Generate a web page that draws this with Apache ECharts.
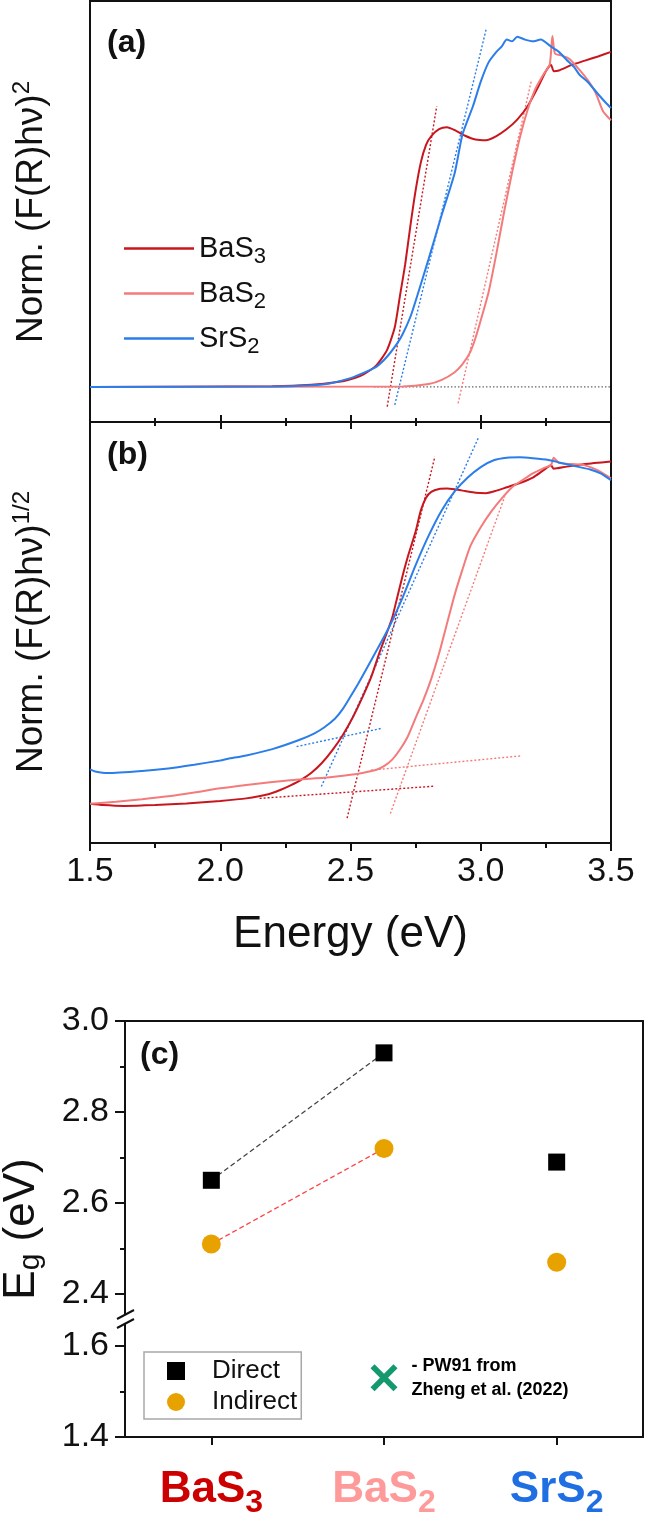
<!DOCTYPE html>
<html>
<head>
<meta charset="utf-8">
<script src="https://cdn.jsdelivr.net/npm/echarts@6.0.0/dist/echarts.min.js"></script>
<style>
  html, body { margin: 0; padding: 0; background: #fff; }
  #chart { width: 646px; height: 1523px; }
</style>
</head>
<body>
<div id="chart"></div>
<script>
// compounds, shared by the legend of (a) and the categories of (c)
const compounds = ['BaS3', 'BaS2', 'SrS2'];
const compoundBase = ['BaS', 'BaS', 'SrS'];
const compoundSub = ['3', '2', '2'];
const lineColors = ['#c8161e', '#f47b7b', '#2b7de9'];
const labelColors = ['#cc0000', '#ff9a9a', '#1f6fe3'];

// (a) direct Tauc plot, [energy eV, normalised (F(R)hv)^2]
const directBaS3 = [[1.5,0],[2.2,0.002],[2.35,0.006],[2.45,0.014],[2.5,0.022],[2.55,0.036],[2.6,0.062],[2.64,0.105],[2.67,0.17],[2.69,0.26],[2.71,0.35],[2.73,0.46],[2.75,0.56],[2.77,0.64],[2.79,0.69],[2.81,0.715],[2.84,0.735],[2.87,0.74],[2.9,0.732],[2.94,0.716],[2.98,0.705],[3.02,0.703],[3.06,0.715],[3.1,0.735],[3.14,0.762],[3.18,0.8],[3.22,0.855],[3.25,0.9],[3.27,0.918],[3.28,0.9],[3.3,0.902],[3.35,0.918],[3.4,0.93],[3.45,0.942],[3.5,0.955]];
const directBaS2 = [[1.5,0],[2.7,0.001],[2.8,0.008],[2.85,0.02],[2.9,0.042],[2.93,0.065],[2.96,0.1],[2.98,0.14],[3.0,0.19],[3.03,0.27],[3.06,0.38],[3.09,0.5],[3.12,0.61],[3.15,0.71],[3.18,0.79],[3.21,0.85],[3.24,0.89],[3.265,0.92],[3.275,1.0],[3.285,0.95],[3.31,0.945],[3.34,0.935],[3.38,0.903],[3.41,0.875],[3.44,0.84],[3.47,0.785],[3.5,0.76]];
const directSrS2 = [[1.5,0],[2.2,0.001],[2.35,0.005],[2.42,0.01],[2.5,0.025],[2.55,0.04],[2.6,0.058],[2.64,0.086],[2.68,0.125],[2.7,0.15],[2.73,0.2],[2.75,0.245],[2.8,0.365],[2.85,0.49],[2.9,0.61],[2.93,0.72],[2.97,0.8],[3.0,0.87],[3.03,0.925],[3.06,0.955],[3.08,0.97],[3.1,0.99],[3.12,0.985],[3.14,0.998],[3.17,0.99],[3.2,0.985],[3.23,0.99],[3.27,0.97],[3.3,0.955],[3.33,0.932],[3.36,0.91],[3.38,0.889],[3.41,0.87],[3.45,0.835],[3.48,0.81],[3.5,0.795]];
const directFits = [
  [[2.641,-0.056],[2.831,0.8]],
  [[2.913,-0.047],[3.195,0.875]],
  [[2.67,-0.051],[3.021,1.02]]
];
const directBase = [[2.59,0],[3.5,0]];

// (b) indirect Tauc plot, [energy eV, normalised (F(R)hv)^1/2]
const indirectBaS3 = [[1.5,0.093],[1.55,0.09],[1.63,0.088],[1.75,0.09],[1.87,0.094],[2.0,0.1],[2.1,0.106],[2.18,0.115],[2.23,0.126],[2.27,0.137],[2.31,0.15],[2.35,0.167],[2.39,0.19],[2.43,0.22],[2.47,0.256],[2.51,0.3],[2.55,0.352],[2.58,0.395],[2.61,0.45],[2.64,0.5],[2.66,0.535],[2.68,0.585],[2.7,0.635],[2.72,0.68],[2.75,0.74],[2.77,0.79],[2.79,0.82],[2.81,0.834],[2.84,0.841],[2.87,0.842],[2.9,0.84],[2.94,0.836],[2.98,0.832],[3.02,0.831],[3.06,0.837],[3.1,0.845],[3.15,0.855],[3.2,0.868],[3.24,0.885],[3.27,0.897],[3.28,0.889],[3.33,0.894],[3.4,0.9],[3.5,0.906]];
const indirectBaS2 = [[1.5,0.093],[1.6,0.098],[1.7,0.104],[1.8,0.111],[1.9,0.12],[2.0,0.13],[2.1,0.138],[2.2,0.145],[2.3,0.151],[2.4,0.155],[2.5,0.162],[2.55,0.167],[2.6,0.174],[2.63,0.183],[2.66,0.198],[2.69,0.222],[2.72,0.253],[2.75,0.297],[2.78,0.34],[2.81,0.39],[2.84,0.45],[2.87,0.52],[2.9,0.59],[2.93,0.65],[2.96,0.705],[3.0,0.75],[3.04,0.787],[3.08,0.818],[3.12,0.845],[3.16,0.862],[3.2,0.878],[3.24,0.89],[3.27,0.898],[3.28,0.915],[3.3,0.903],[3.35,0.9],[3.4,0.897],[3.45,0.885],[3.5,0.866]];
const indirectSrS2 = [[1.5,0.175],[1.52,0.17],[1.57,0.166],[1.7,0.171],[1.8,0.177],[1.9,0.186],[2.0,0.196],[2.03,0.2],[2.1,0.208],[2.2,0.223],[2.3,0.244],[2.36,0.26],[2.4,0.275],[2.44,0.295],[2.47,0.318],[2.5,0.348],[2.53,0.379],[2.56,0.412],[2.6,0.457],[2.65,0.515],[2.7,0.583],[2.75,0.66],[2.8,0.73],[2.85,0.79],[2.9,0.835],[2.95,0.868],[3.0,0.893],[3.05,0.909],[3.1,0.915],[3.15,0.916],[3.2,0.914],[3.26,0.91],[3.3,0.904],[3.37,0.894],[3.42,0.887],[3.46,0.878],[3.5,0.862]];
const indirectFits = [
  [[2.487,0.059],[2.824,0.918]],
  [[2.653,0.07],[3.092,0.823]],
  [[2.388,0.134],[2.992,0.964]]
];
const indirectBases = [
  [[2.151,0.106],[2.824,0.135]],
  [[2.578,0.173],[3.155,0.207]],
  [[2.293,0.229],[2.617,0.272]]
];

// (c) band gaps (eV)
const directEg = [2.65, 2.93, 2.69];
const indirectEg = [2.51, 2.72, 2.47];
const pw91Cat = 'BaS2';
const pw91Eg = 1.53;
const upperTicks = [2.4, 2.6, 2.8, 3.0];
const upperMinor = [2.5, 2.7, 2.9];
const lowerTicks = [1.4, 1.6];
const lowerMinor = [1.5];

const FONT = '"Liberation Sans", Arial, sans-serif';
const INK = '#111';

const chart = echarts.init(document.getElementById('chart'));

function curve(name, data, color, axis) {
  return {
    name, type: 'line', xAxisIndex: axis, yAxisIndex: axis, data,
    showSymbol: false, symbol: 'none', smooth: 0.2,
    lineStyle: { color, width: 2 }, itemStyle: { color }, z: 3
  };
}
function fit(data, color, axis) {
  return {
    type: 'line', xAxisIndex: axis, yAxisIndex: axis, data,
    showSymbol: false, symbol: 'none', silent: true,
    lineStyle: { color, width: 1.4, type: [2, 2] }, z: 2
  };
}

const directSets = [directBaS3, directBaS2, directSrS2];
const indirectSets = [indirectBaS3, indirectBaS2, indirectSrS2];
const series = [];
compounds.forEach((c, i) => {
  series.push(curve(c, directSets[i], lineColors[i], 0));
  series.push(fit(directFits[i], lineColors[i], 0));
  series.push(curve(c, indirectSets[i], lineColors[i], 1));
  series.push(fit(indirectFits[i], lineColors[i], 1));
  series.push(fit(indirectBases[i], lineColors[i], 1));
});
series.push({
  type: 'line', xAxisIndex: 0, yAxisIndex: 0, data: directBase,
  showSymbol: false, symbol: 'none', silent: true,
  lineStyle: { color: '#666', width: 1.2, type: [1.5, 2] }, z: 1
});

// panel (c)
series.push({
  type: 'line', xAxisIndex: 3, yAxisIndex: 2, data: directEg.slice(0, 2),
  symbol: 'none', silent: true, lineStyle: { color: '#444', width: 1.3, type: [5, 3] }, z: 2
});
series.push({
  type: 'line', xAxisIndex: 3, yAxisIndex: 2, data: indirectEg.slice(0, 2),
  symbol: 'none', silent: true, lineStyle: { color: '#ff4040', width: 1.3, type: [5, 3] }, z: 2
});
series.push({
  name: 'Direct', type: 'scatter', xAxisIndex: 3, yAxisIndex: 2, data: directEg,
  symbol: 'rect', symbolSize: 17, itemStyle: { color: '#000', opacity: 1 }, z: 4
});
series.push({
  name: 'Indirect', type: 'scatter', xAxisIndex: 3, yAxisIndex: 2, data: indirectEg,
  symbol: 'circle', symbolSize: 19, itemStyle: { color: '#e8a200', opacity: 1 }, z: 4
});
series.push({
  type: 'scatter', xAxisIndex: 4, yAxisIndex: 5, data: [[pw91Cat, pw91Eg]],
  symbol: 'path://M0,3 L3,0 L10,7 L17,0 L20,3 L13,10 L20,17 L17,20 L10,13 L3,20 L0,17 L7,10 Z',
  symbolSize: 27, itemStyle: { color: '#14996e', opacity: 1 }, z: 4,
  label: {
    show: true, position: 'right', distance: 14, formatter: '- PW91 from\nZheng et al. (2022)',
    fontFamily: FONT, fontWeight: 'bold', fontSize: 18, lineHeight: 24, color: '#000', align: 'left'
  }
});

const frame = { show: true, onZero: false, lineStyle: { color: INK, width: 2 } };
const noSplit = { show: false };

function energyAxis(grid, pos, inside, labels) {
  return {
    type: 'value', gridIndex: grid, position: pos, min: 1.5, max: 3.5, interval: 0.5,
    axisLine: frame,
    axisTick: { show: true, inside, length: inside ? 7 : 8, lineStyle: { color: INK, width: 2 } },
    minorTick: { show: true, splitNumber: 2, length: inside ? 4 : 5, lineStyle: { color: INK, width: 2 } },
    axisLabel: { show: labels, fontFamily: FONT, fontSize: 34, color: INK, margin: 12,
      formatter: v => v.toFixed(1) },
    splitLine: noSplit, minorSplitLine: noSplit
  };
}

function egAxis(grid, min, max, ticks, len, showLabels, pos) {
  return {
    type: 'value', gridIndex: grid, min, max, position: pos || 'left',
    axisLine: showLabels !== null ? frame : { show: false, onZero: false },
    axisTick: ticks ? { show: true, customValues: ticks, length: len, lineStyle: { color: INK, width: 2 } } : { show: false },
    axisLabel: showLabels ? { show: true, customValues: ticks, fontFamily: FONT, fontSize: 34, color: INK, margin: 16,
      formatter: v => v.toFixed(1) } : { show: false },
    splitLine: noSplit
  };
}

const catRich = {};
compounds.forEach((c, i) => {
  catRich['c' + i] = { color: labelColors[i], fontFamily: FONT, fontSize: 44, fontWeight: 'bold' };
  catRich['s' + i] = { color: labelColors[i], fontFamily: FONT, fontSize: 32, fontWeight: 'bold', padding: [26, 0, 0, 0] };
});

const option = {
  backgroundColor: '#fff',
  animation: false,
  title: [
    { text: '(a)', left: 107, top: 27, padding: 0, textStyle: { fontFamily: FONT, fontSize: 32, fontWeight: 'bold', color: INK } },
    { text: '(b)', left: 107, top: 439, padding: 0, textStyle: { fontFamily: FONT, fontSize: 32, fontWeight: 'bold', color: INK } },
    { text: '(c)', left: 140, top: 1039, padding: 0, textStyle: { fontFamily: FONT, fontSize: 32, fontWeight: 'bold', color: INK } }
  ],
  legend: [
    {
      data: compounds, orient: 'vertical', left: 124, top: 234, padding: 0, itemGap: 11,
      icon: 'rect', itemWidth: 70, itemHeight: 2.5,
      formatter: name => {
        const i = compounds.indexOf(name);
        return '{b|' + compoundBase[i] + '}{s|' + compoundSub[i] + '}';
      },
      textStyle: { color: INK, fontFamily: FONT, fontSize: 29,
        rich: { b: { fontFamily: FONT, fontSize: 29, color: INK }, s: { fontFamily: FONT, fontSize: 22, color: INK, padding: [17, 0, 0, 0] } } }
    },
    {
      data: ['Direct', 'Indirect'], orient: 'vertical', left: 144, top: 1352,
      padding: [6, 4, 4, 23], itemGap: 5, itemWidth: 18, itemHeight: 18,
      backgroundColor: '#fff', borderColor: '#a8a8a8', borderWidth: 1.5,
      textStyle: { color: INK, fontFamily: FONT, fontSize: 26, padding: [0, 0, 0, 22] }
    }
  ],
  grid: [
    { left: 90, top: 1, width: 521, height: 421, show: true, borderColor: INK, borderWidth: 2 },
    { left: 90, top: 422, width: 521, height: 421, show: true, borderColor: INK, borderWidth: 2 },
    { left: 125, top: 1021, width: 518, height: 299 },
    { left: 125, top: 1320, width: 518, height: 117 }
  ],
  xAxis: [
    energyAxis(0, 'bottom', true, false),
    Object.assign(energyAxis(1, 'bottom', false, true), {
      name: 'Energy (eV)', nameLocation: 'middle', nameGap: 70,
      nameTextStyle: { fontFamily: FONT, fontSize: 44, color: INK }
    }),
    energyAxis(1, 'top', true, false),
    { type: 'category', gridIndex: 2, position: 'top', data: compounds,
      axisLine: frame, axisTick: { show: false }, axisLabel: { show: false } },
    { type: 'category', gridIndex: 3, position: 'bottom', data: compounds,
      axisLine: frame,
      axisTick: { show: true, alignWithLabel: true, length: 8, lineStyle: { color: INK, width: 2 } },
      axisLabel: { show: true, margin: 24, interval: 0,
        formatter: (v, i) => '{c' + i + '|' + compoundBase[i] + '}{s' + i + '|' + compoundSub[i] + '}',
        rich: catRich } }
  ],
  yAxis: [
    { type: 'value', gridIndex: 0, min: -0.1, max: 1.1, show: false },
    { type: 'value', gridIndex: 1, min: 0, max: 1, show: false },
    egAxis(2, 2.343, 3.0, upperTicks, 10, true),
    egAxis(2, 2.343, 3.0, upperMinor, 5, null),
    egAxis(2, 2.343, 3.0, null, 0, false, 'right'),
    egAxis(3, 1.4, 1.657, lowerTicks, 10, true),
    egAxis(3, 1.4, 1.657, lowerMinor, 5, null),
    egAxis(3, 1.4, 1.657, null, 0, false, 'right')
  ],
  graphic: [
    { type: 'text', x: 32, y: 212, rotation: Math.PI / 2, z: 10,
      style: { text: '{m|Norm. (F(R)hν)}{p|2}', align: 'center', verticalAlign: 'middle',
        rich: { m: { fontFamily: FONT, fontSize: 37, fill: INK }, p: { fontFamily: FONT, fontSize: 24, fill: INK, padding: [0, 0, 20, 0] } } } },
    { type: 'text', x: 32, y: 632, rotation: Math.PI / 2, z: 10,
      style: { text: '{m|Norm. (F(R)hν)}{p|1/2}', align: 'center', verticalAlign: 'middle',
        rich: { m: { fontFamily: FONT, fontSize: 37, fill: INK }, p: { fontFamily: FONT, fontSize: 24, fill: INK, padding: [0, 0, 20, 0] } } } },
    { type: 'text', x: 22, y: 1229, rotation: Math.PI / 2, z: 10,
      style: { text: '{m|E}{s|g}{m| (eV)}', align: 'center', verticalAlign: 'middle',
        rich: { m: { fontFamily: FONT, fontSize: 44, fill: INK }, s: { fontFamily: FONT, fontSize: 30, fill: INK, padding: [18, 0, 0, 0] } } } },
    // axis break mark on the Eg axis
    { type: 'rect', z: 100, shape: { x: 119, y: 1315, width: 12, height: 9 }, style: { fill: '#fff' } },
    { type: 'line', z: 101, shape: { x1: 117, y1: 1319, x2: 134, y2: 1310 }, style: { stroke: INK, lineWidth: 2 } },
    { type: 'line', z: 101, shape: { x1: 117, y1: 1328, x2: 134, y2: 1319 }, style: { stroke: INK, lineWidth: 2 } }
  ],
  series
};

chart.setOption(option);
</script>
</body>
</html>
